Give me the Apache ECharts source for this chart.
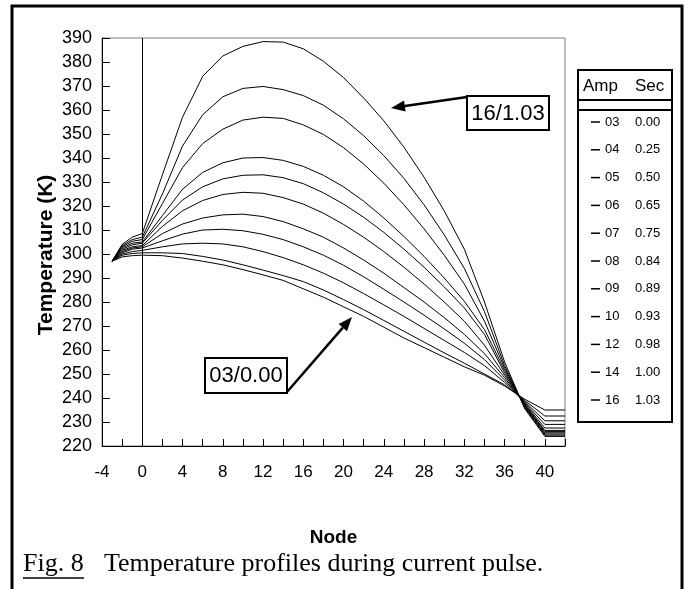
<!DOCTYPE html>
<html>
<head>
<meta charset="utf-8">
<script src="https://cdn.jsdelivr.net/npm/echarts@6/dist/echarts.min.js"></script>
<style>
  html, body { margin: 0; padding: 0; background: #fff; }
  #chart { width: 688px; height: 589px; }
</style>
</head>
<body>
<div id="chart"></div>
<script>
// node positions along the x axis
var nodes = [-3, -2, -1, 0, 2, 4, 6, 8, 10, 12, 14, 16, 18, 20, 22, 24, 26, 28, 30, 32, 34, 36, 38, 40, 42];

// legend: amp / seconds
var amps = ['03', '04', '05', '06', '07', '08', '09', '10', '12', '14', '16'];
var secs = ['0.00', '0.25', '0.50', '0.65', '0.75', '0.84', '0.89', '0.93', '0.98', '1.00', '1.03'];

// temperature (K) per node, one array per curve
var s03 = [297, 298.8, 299.3, 299.5, 299.3, 298.3, 297, 295.5, 293.5, 291.3, 289, 285.5, 282, 278, 274, 269.5, 265, 261, 257, 253, 249.5, 245, 239.5, 235, 235];
var s04 = [297, 299.5, 300.2, 300.5, 300.5, 300.2, 299, 297.5, 295.5, 293.3, 291, 288.5, 285, 281, 276.8, 272.3, 267.8, 263.3, 258.8, 254.5, 250, 245.5, 239, 232.5, 232.5];
var s05 = [297, 300, 301, 301.5, 303, 304.2, 304.5, 304.2, 303, 301, 298.5, 295.5, 292, 288, 283.5, 278.8, 274, 269, 264, 259, 253.5, 246.5, 238.5, 230.5, 230.5];
var s06 = [297, 300.5, 302, 302.5, 305.5, 308.3, 310, 310.3, 309.7, 308.2, 306, 303, 299.5, 295.3, 290.5, 285.3, 280, 274.5, 268.8, 262.8, 256, 247.5, 238, 229, 229];
var s07 = [297, 301, 302.5, 303, 308.5, 312.5, 315, 316.3, 316.6, 315.6, 313.5, 310.5, 307, 302.5, 297.5, 292, 286, 280, 273.5, 266.5, 258.5, 248.5, 237.7, 227.5, 227.5];
var s08 = [297, 301.5, 303, 303.5, 311.5, 318, 322.3, 324.8, 325.7, 325.3, 323.5, 320.8, 317, 312.3, 307, 301, 294.5, 287.5, 280, 272, 262, 249.5, 237.3, 226.5, 226.5];
var s09 = [297, 302, 303.8, 304.5, 314, 322.5, 328, 331.3, 332.8, 333, 331.8, 329.3, 325.5, 320.8, 315.3, 309, 302, 294.5, 286.3, 277.5, 266.5, 250.5, 237, 226, 226];
var s10 = [297, 302.5, 304.5, 305, 316, 327, 334, 338, 340, 340.2, 339, 336.5, 332.8, 328, 322, 315, 307.3, 299, 290, 280.3, 268.5, 251.5, 236.7, 225.5, 225.5];
var s12 = [297, 303, 305.3, 306, 321, 336, 346, 352, 355.8, 357, 356.5, 353.8, 349.8, 344.3, 337.5, 329.5, 320.5, 310.5, 299.5, 287.5, 272, 252.5, 236.3, 225, 225];
var s14 = [297, 303.5, 306, 307, 325, 345, 358, 365.5, 369, 369.8, 368.5, 366, 362, 356.3, 349.3, 341, 331.5, 320.5, 308, 294, 276, 253.5, 236, 224.5, 224.5];
var s16 = [297, 304, 307, 308.5, 333, 357, 374, 382.5, 386.5, 388.5, 388.3, 385.5, 380.3, 373.5, 365, 355.5, 344.5, 332, 318, 302, 280, 255, 235.5, 224, 224];
var temps = [s03, s04, s05, s06, s07, s08, s09, s10, s12, s14, s16];

// axis ranges / ticks
var xMin = -4, xMax = 42, xTickStep = 2, xLabelStep = 4;
var yMin = 220, yMax = 390, yTickStep = 10;

var FONT = 'Liberation Sans, Arial, sans-serif';
var SERIF = 'Liberation Serif, Times New Roman, serif';

var chart = echarts.init(document.getElementById('chart'));

var series = amps.map(function (a, i) {
    return {
        name: a,
        type: 'line',
        symbol: 'none',
        silent: true,
        lineStyle: {color: '#000', width: 1},
        itemStyle: {color: '#000'},
        data: nodes.map(function (n, j) { return [n, temps[i][j]]; })
    };
});
// vertical line at node 0
series[0].markLine = {
    silent: true,
    symbol: 'none',
    label: {show: false},
    lineStyle: {color: '#000', type: 'solid', width: 1},
    data: [{xAxis: 0}]
};

// arrow helper (line + filled head)
function arrow(x1, y1, x2, y2) {
    var dx = x2 - x1, dy = y2 - y1, len = Math.sqrt(dx * dx + dy * dy);
    var ux = dx / len, uy = dy / len, hl = 14, hw = 5.5;
    var bx = x2 - ux * hl, by = y2 - uy * hl;
    return [{
        type: 'line',
        shape: {x1: x1, y1: y1, x2: bx, y2: by},
        style: {stroke: '#000', lineWidth: 2.5}
    }, {
        type: 'polygon',
        shape: {points: [[x2, y2], [bx + uy * hw, by - ux * hw], [bx - uy * hw, by + ux * hw]]},
        style: {fill: '#000'}
    }];
}

var graphic = [
    // outer frame
    {type: 'rect', shape: {x: 12, y: 6, width: 670, height: 600}, style: {fill: 'none', stroke: '#000', lineWidth: 3}},
    // y axis title
    {type: 'text', x: 46, y: 255, rotation: Math.PI / 2,
        style: {text: 'Temperature (K)', font: 'bold 21px ' + FONT, fill: '#000', align: 'center', verticalAlign: 'middle'}},
    // legend box
    {type: 'rect', shape: {x: 578, y: 70, width: 94, height: 352}, style: {fill: 'none', stroke: '#000', lineWidth: 2}},
    {type: 'rect', shape: {x: 578, y: 100, width: 94, height: 10}, style: {fill: 'none', stroke: '#000', lineWidth: 2}},
    {type: 'text', x: 583, y: 86, style: {text: 'Amp', font: '17px ' + FONT, fill: '#000', verticalAlign: 'middle'}},
    {type: 'text', x: 635, y: 86, style: {text: 'Sec', font: '17px ' + FONT, fill: '#000', verticalAlign: 'middle'}},
    // annotation boxes
    {type: 'rect', shape: {x: 467, y: 96, width: 82, height: 34}, style: {fill: '#fff', stroke: '#000', lineWidth: 2}},
    {type: 'text', x: 508, y: 114, style: {text: '16/1.03', font: '22px ' + FONT, fill: '#000', align: 'center', verticalAlign: 'middle'}},
    {type: 'rect', shape: {x: 205, y: 358, width: 82, height: 35}, style: {fill: '#fff', stroke: '#000', lineWidth: 2}},
    {type: 'text', x: 246, y: 376, style: {text: '03/0.00', font: '22px ' + FONT, fill: '#000', align: 'center', verticalAlign: 'middle'}},
    // caption
    {type: 'text', x: 23, y: 564, style: {text: 'Fig. 8', font: '26px ' + SERIF, fill: '#000', verticalAlign: 'middle'}},
    {type: 'line', shape: {x1: 23, y1: 578, x2: 84, y2: 578}, style: {stroke: '#000', lineWidth: 1.5}},
    {type: 'text', x: 104, y: 564, style: {text: 'Temperature profiles during current pulse.', font: '26px ' + SERIF, fill: '#000', verticalAlign: 'middle'}}
].concat(arrow(467, 97, 391, 108), arrow(287, 392, 352, 317));

var option = {
    animation: false,
    backgroundColor: '#fff',
    grid: {left: 102, top: 38, right: 123, bottom: 143, show: true, borderColor: '#808080', borderWidth: 1},
    xAxis: {
        type: 'value',
        min: xMin, max: xMax, interval: xTickStep,
        name: 'Node', nameLocation: 'middle', nameGap: 82,
        nameTextStyle: {fontFamily: FONT, fontWeight: 'bold', fontSize: 19, color: '#000'},
        axisLine: {onZero: false, lineStyle: {color: '#000', width: 1}},
        axisTick: {inside: true, length: 7, lineStyle: {color: '#000'}},
        axisLabel: {
            margin: 18, fontFamily: FONT, fontSize: 17, color: '#000',
            formatter: function (v) { return v % xLabelStep === 0 ? String(v) : ''; }
        },
        splitLine: {show: false}
    },
    yAxis: {
        type: 'value',
        min: yMin, max: yMax, interval: yTickStep,
        axisLine: {show: true, onZero: false, lineStyle: {color: '#000', width: 1}},
        axisTick: {show: true, inside: true, length: 8, lineStyle: {color: '#000'}},
        axisLabel: {margin: 10, fontFamily: FONT, fontSize: 18, color: '#000'},
        splitLine: {show: false}
    },
    legend: {
        data: amps,
        orient: 'vertical',
        left: 591, top: 115, padding: 0,
        icon: 'rect', itemWidth: 9, itemHeight: 1.5, itemGap: 13.8,
        selectedMode: false,
        textStyle: {
            fontFamily: FONT, fontSize: 13, color: '#000', lineHeight: 14,
            rich: {
                a: {width: 30, fontFamily: FONT, fontSize: 13, color: '#000', lineHeight: 14},
                b: {fontFamily: FONT, fontSize: 13, color: '#000', lineHeight: 14}
            }
        },
        formatter: function (name) {
            return '{a|' + name + '}{b|' + secs[amps.indexOf(name)] + '}';
        }
    },
    graphic: graphic,
    series: series
};

chart.setOption(option);
</script>
</body>
</html>
